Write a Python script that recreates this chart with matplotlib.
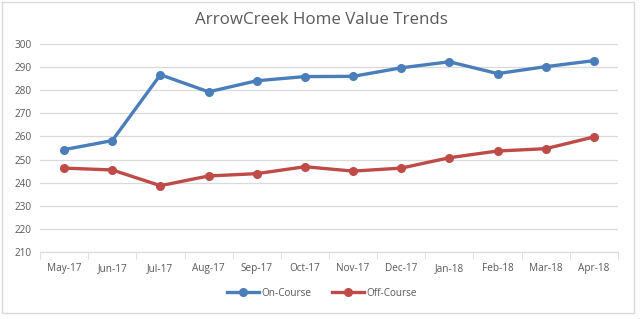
import numpy as np
import matplotlib.pyplot as plt
from matplotlib.patches import Rectangle

months = ["May-17", "Jun-17", "Jul-17", "Aug-17", "Sep-17", "Oct-17",
          "Nov-17", "Dec-17", "Jan-18", "Feb-18", "Mar-18", "Apr-18"]
on_course = [254.3, 258.2, 286.7, 279.3, 284.1, 285.9,
             286.0, 289.7, 292.3, 287.2, 290.2, 292.8]
off_course = [246.3, 245.5, 238.7, 242.9, 243.9, 246.9,
              245.0, 246.3, 250.8, 253.7, 254.7, 259.8]

plt.rcParams['font.family'] = ['Open Sans', 'DejaVu Sans']
grey = '#595959'

fig = plt.figure(figsize=(6.43, 3.19), dpi=100)
W, H = 643, 319
ax = fig.add_axes([40 / W, 1 - 252 / H, 578 / W, 208 / H])

x = np.arange(len(months))
ax.plot(x, on_course, color='#4A7EBB', lw=2.4, marker='o', ms=5.5, label='On-Course')
ax.plot(x, off_course, color='#BE4B48', lw=2.4, marker='o', ms=5.5, label='Off-Course')

ax.set_xlim(-0.5, len(months) - 0.5)
ax.set_ylim(210, 300)
ax.set_yticks(np.arange(210, 301, 10))
ax.grid(axis='y', color='#D9D9D9', lw=0.9)
ax.set_axisbelow(True)
for s in ['top', 'right', 'left']:
    ax.spines[s].set_visible(False)
ax.spines['bottom'].set_color('#D9D9D9')
ax.set_xticks(x)
ax.set_xticklabels(months)
ax.set_xticks(np.arange(-0.5, len(months)), minor=True)
ax.tick_params(axis='x', which='major', length=0, pad=8, labelsize=7.2, labelcolor=grey)
ax.tick_params(axis='x', which='minor', length=5, color='#D9D9D9')
ax.tick_params(axis='y', length=0, pad=6, labelsize=7.2, labelcolor=grey)

fig.text(0.5, 1 - 20 / H, 'ArrowCreek Home Value Trends', ha='center', va='center',
         fontsize=12.2, color=grey)

fig.legend(loc='center', bbox_to_anchor=(322 / W, 1 - 293 / H), ncol=2, frameon=False,
           fontsize=7.2, labelcolor=grey, handlelength=3.2, columnspacing=2.0,
           handletextpad=0.3)

fig.patches.append(Rectangle((2 / W, 1 - 313 / H), 632 / W, 311 / H,
                             transform=fig.transFigure, fill=False,
                             edgecolor='#D9D9D9', lw=1))

fig.savefig('out.png', dpi=100)
